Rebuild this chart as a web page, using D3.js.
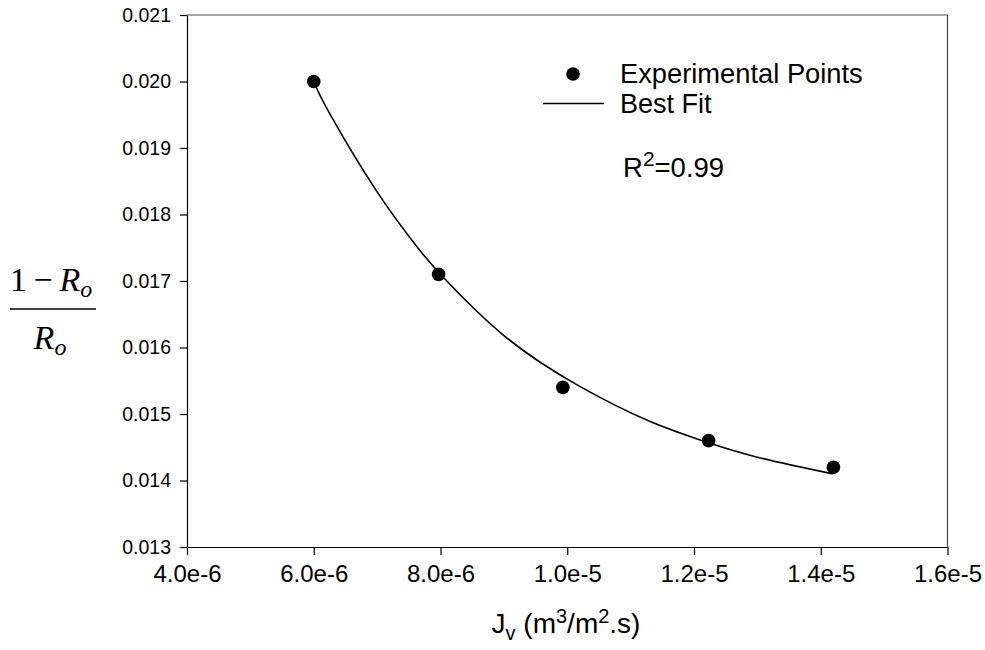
<!DOCTYPE html>
<html>
<head>
<meta charset="utf-8">
<script src="https://cdn.jsdelivr.net/npm/d3@7"></script>
<style>
  html, body { margin: 0; padding: 0; background: #fff; }
  svg { display: block; }
  text { font-family: "Liberation Sans", Arial, sans-serif; fill: #000; }
</style>
</head>
<body>
<svg id="chart" width="985" height="650"></svg>
<script>
// Measured permeate flux (m3/m2.s) and (1 - Ro)/Ro
const fluxValues = [6.0e-6, 7.97e-6, 9.93e-6, 1.223e-5, 1.42e-5];
const ratioValues = [0.0200, 0.0171, 0.0154, 0.0146, 0.0142];

// Best-fit curve samples
const fitFlux = [6.0e-6, 6.25e-6, 7.0e-6, 7.65e-6, 8.04e-6, 9.0e-6, 1.017e-5, 1.13e-5, 1.222e-5, 1.3e-5, 1.419e-5];
const fitRatio = [0.02000, 0.01952, 0.01834, 0.01749, 0.01706, 0.01618, 0.01543, 0.01489, 0.01457, 0.01435, 0.01410];

// Axis ticks
const xTickValues = [4.0e-6, 6.0e-6, 8.0e-6, 1.0e-5, 1.2e-5, 1.4e-5, 1.6e-5];
const xTickLabels = ["4.0e-6", "6.0e-6", "8.0e-6", "1.0e-5", "1.2e-5", "1.4e-5", "1.6e-5"];
const yTickValues = [0.013, 0.014, 0.015, 0.016, 0.017, 0.018, 0.019, 0.020, 0.021];
const yTickLabels = ["0.013", "0.014", "0.015", "0.016", "0.017", "0.018", "0.019", "0.020", "0.021"];

const legendLabels = ["Experimental Points", "Best Fit"];
const r2Value = "0.99";

const svg = d3.select("#chart");
const plot = { left: 187, top: 15, right: 947.5, bottom: 547 };

const x = d3.scaleLinear().domain([4.0e-6, 1.6e-5]).range([plot.left, plot.right]);
const y = d3.scaleLinear().domain([0.013, 0.021]).range([plot.bottom, plot.top]);

// Frame: top and right edges
svg.append("line")
  .attr("x1", plot.left).attr("x2", plot.right)
  .attr("y1", plot.top).attr("y2", plot.top)
  .attr("stroke", "#4a4a4a").attr("stroke-width", 1.2);
svg.append("line")
  .attr("x1", plot.right).attr("x2", plot.right)
  .attr("y1", plot.top).attr("y2", plot.bottom)
  .attr("stroke", "#4a4a4a").attr("stroke-width", 1.2);

// Bottom axis
const xAxis = d3.axisBottom(x)
  .tickValues(xTickValues)
  .tickFormat((d, i) => xTickLabels[i])
  .tickSizeInner(8).tickSizeOuter(0).tickPadding(10);
const gx = svg.append("g").attr("transform", `translate(0,${plot.bottom})`).call(xAxis);
gx.select(".domain").attr("stroke", "#000").attr("stroke-width", 1.2);
gx.selectAll(".tick line").attr("stroke", "#000").attr("stroke-width", 1.2);
gx.selectAll(".tick text")
  .style("font-family", "'Liberation Sans', Arial, sans-serif")
  .style("font-size", "24px").attr("fill", "#000");

// Left axis
const yAxis = d3.axisLeft(y)
  .tickValues(yTickValues)
  .tickFormat((d, i) => yTickLabels[i])
  .tickSizeInner(7).tickSizeOuter(0).tickPadding(9);
const gy = svg.append("g").attr("transform", `translate(${plot.left},0)`).call(yAxis);
gy.select(".domain").attr("stroke", "#000").attr("stroke-width", 1.2);
gy.selectAll(".tick line").attr("stroke", "#000").attr("stroke-width", 1.2);
gy.selectAll(".tick text")
  .style("font-family", "'Liberation Sans', Arial, sans-serif")
  .style("font-size", "19.5px").attr("fill", "#000");

// Best-fit curve
const fitData = fitFlux.map((f, i) => [f, fitRatio[i]]);
svg.append("path")
  .datum(fitData)
  .attr("fill", "none")
  .attr("stroke", "#000")
  .attr("stroke-width", 1.6)
  .attr("d", d3.line().x(d => x(d[0])).y(d => y(d[1])).curve(d3.curveNatural));

// Experimental points
svg.append("g").selectAll("circle")
  .data(fluxValues.map((f, i) => [f, ratioValues[i]]))
  .join("circle")
  .attr("cx", d => x(d[0]))
  .attr("cy", d => y(d[1]))
  .attr("r", 6.8)
  .attr("fill", "#000");

// Legend
const legend = svg.append("g");
legend.append("circle").attr("cx", 573).attr("cy", 74).attr("r", 6.8).attr("fill", "#000");
legend.append("text").attr("x", 620).attr("y", 83)
  .style("font-size", "27.3px").text(legendLabels[0]);
legend.append("line").attr("x1", 543).attr("x2", 604).attr("y1", 103.5).attr("y2", 103.5)
  .attr("stroke", "#000").attr("stroke-width", 1.4);
legend.append("text").attr("x", 620).attr("y", 112.5)
  .style("font-size", "27px").text(legendLabels[1]);

// Coefficient of determination
const r2 = svg.append("text").attr("x", 623).attr("y", 177).style("font-size", "27.5px");
r2.append("tspan").text("R");
r2.append("tspan").attr("dy", -11).style("font-size", "21px").text("2");
r2.append("tspan").attr("dy", 11).text("=" + r2Value);

// X axis title
const xt = svg.append("text").attr("x", 566).attr("y", 633)
  .attr("text-anchor", "middle").style("font-size", "28px");
xt.append("tspan").text("J");
xt.append("tspan").attr("dy", 7).style("font-size", "20px").text("v");
xt.append("tspan").attr("dy", -7).text(" (m");
xt.append("tspan").attr("dy", -10).style("font-size", "20px").text("3");
xt.append("tspan").attr("dy", 10).text("/m");
xt.append("tspan").attr("dy", -10).style("font-size", "20px").text("2");
xt.append("tspan").attr("dy", 10).text(".s)");

// Y axis title: (1 - Ro) / Ro as a stacked fraction
const serif = "'Liberation Serif', 'Times New Roman', serif";
const num = svg.append("text").attr("x", 51).attr("y", 291).attr("text-anchor", "middle")
  .style("font-family", serif).style("font-size", "34px");
num.append("tspan").text("1\u2009\u2212\u2009");
num.append("tspan").style("font-style", "italic").text("R");
num.append("tspan").style("font-style", "italic").attr("dy", 6).style("font-size", "24px").text("o");
svg.append("line").attr("x1", 10).attr("x2", 96).attr("y1", 309).attr("y2", 309)
  .attr("stroke", "#000").attr("stroke-width", 1.4);
const den = svg.append("text").attr("x", 50).attr("y", 349).attr("text-anchor", "middle")
  .style("font-family", serif).style("font-size", "34px");
den.append("tspan").style("font-style", "italic").text("R");
den.append("tspan").style("font-style", "italic").attr("dy", 6).style("font-size", "24px").text("o");
</script>
</body>
</html>
